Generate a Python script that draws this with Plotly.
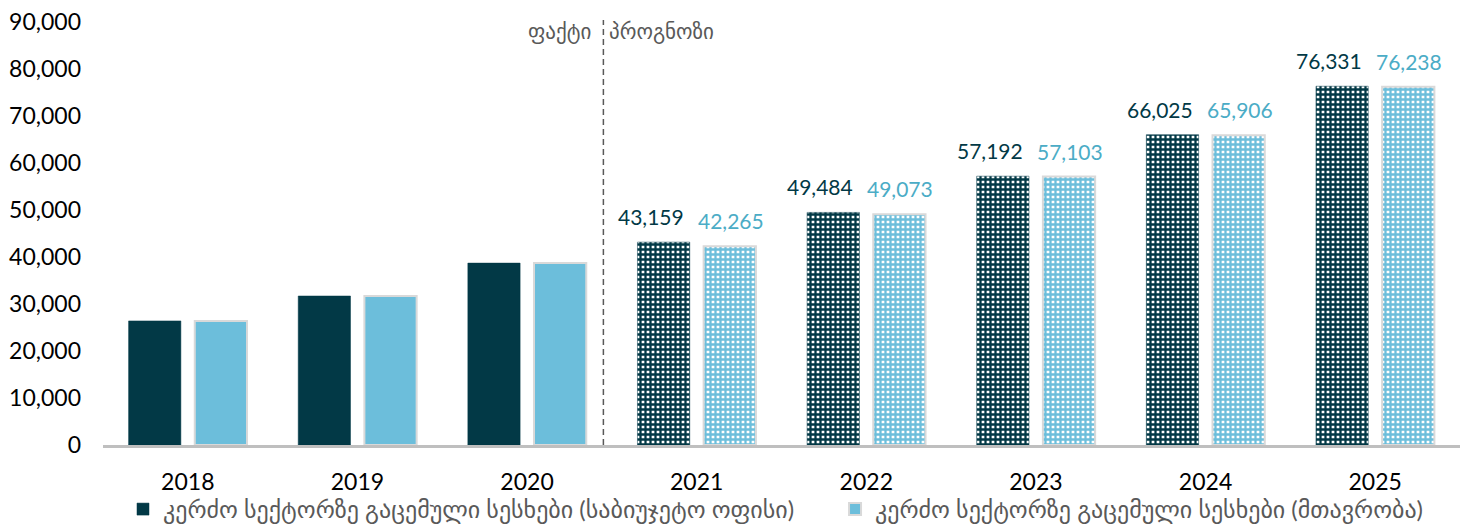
import plotly.graph_objects as go

years = ["2018", "2019", "2020", "2021", "2022", "2023", "2024", "2025"]
budget_office = [26400, 31700, 38700, 43159, 49484, 57192, 66025, 76331]
government = [26400, 31700, 38700, 42265, 49073, 57103, 65906, 76238]
show_label = [False, False, False, True, True, True, True, True]
forecast = [False, False, False, True, True, True, True, True]

name1 = "კერძო სექტორზე გაცემული სესხები (საბიუჯეტო ოფისი)"
name2 = "კერძო სექტორზე გაცემული სესხები (მთავრობა)"
fact_txt = "ფაქტი"
fcst_txt = "პროგნოზი"

DARK = "#023946"
LIGHT = "#6cbedb"
LIGHT_TXT = "#4bacc6"
FONT = "Lato, DejaVu Sans, sans-serif"

fig = go.Figure()
fig.add_trace(go.Bar(
    x=years, y=budget_office, name=name1, legend="legend",
    marker=dict(
        color=DARK,
        line=dict(color=DARK, width=0.5),
        pattern=dict(
            shape=["+" if f else "" for f in forecast],
            fgcolor=DARK, bgcolor="white", size=5, solidity=0.7,
            fillmode="replace",
        ),
    ),
))
fig.add_trace(go.Bar(
    x=years, y=government, name=name2, legend="legend2",
    marker=dict(
        color=LIGHT,
        line=dict(color="#d9d9d9", width=2),
        pattern=dict(
            shape=["+" if f else "" for f in forecast],
            fgcolor=LIGHT, bgcolor="white", size=5, solidity=0.7,
            fillmode="replace",
        ),
    ),
))

# value labels (forecast years only)
for i, (v1, v2, s) in enumerate(zip(budget_office, government, show_label)):
    if not s:
        continue
    fig.add_annotation(x=i, y=v1, xref="x", yref="y", text=f"{v1:,}", showarrow=False,
                       xanchor="center", yanchor="bottom", xshift=-46, yshift=11,
                       font=dict(size=21, color=DARK, family=FONT))
    fig.add_annotation(x=i, y=v2, xref="x", yref="y", text=f"{v2:,}", showarrow=False,
                       xanchor="center", yanchor="bottom", xshift=34, yshift=11,
                       font=dict(size=21, color=LIGHT_TXT, family=FONT))

# divider between fact and forecast
fig.add_shape(type="line", xref="x", yref="paper", x0=2.45, x1=2.45, y0=0, y1=1.005,
              line=dict(color="#595959", width=1.5, dash="6px,4px"))
fig.add_annotation(x=2.45, xref="x", y=1.0, yref="paper", text=fact_txt, showarrow=False,
                   xanchor="right", yanchor="middle", xshift=-10, yshift=-9,
                   font=dict(size=21, color="#595959", family=FONT))
fig.add_annotation(x=2.45, xref="x", y=1.0, yref="paper", text=fcst_txt, showarrow=False,
                   xanchor="left", yanchor="middle", xshift=4, yshift=-9,
                   font=dict(size=21, color="#595959", family=FONT))

legend_common = dict(orientation="h", xref="container", xanchor="left",
                     yref="container", y=0.03, yanchor="middle",
                     bgcolor="rgba(0,0,0,0)",
                     font=dict(size=24, color="#595959", family=FONT),
                     itemwidth=30)

fig.update_layout(
    width=1463, height=517,
    margin=dict(l=95, r=11, t=14, b=80, autoexpand=False),
    plot_bgcolor="white", paper_bgcolor="white",
    barmode="group", bargap=0.22, bargroupgap=0.21,
    font=dict(family=FONT, size=23, color="#000000"),
    showlegend=True,
    legend=dict(x=0.0786, **legend_common),
    legend2=dict(x=0.5653, **legend_common),
    xaxis=dict(type="category", showgrid=False, showline=True, linecolor="#bfbfbf",
               linewidth=3, tickfont=dict(size=23, color="#000000"), ticks="",
               automargin=False, ticklabelstandoff=14),
    yaxis=dict(range=[0, 90000], dtick=10000, tickformat=",", showgrid=False,
               zeroline=False, showline=False, ticks="", automargin=False,
               ticklabeloverflow="allow",
               tickfont=dict(size=23, color="#000000"), ticklabelstandoff=21),
)

fig.write_html("out.html")
